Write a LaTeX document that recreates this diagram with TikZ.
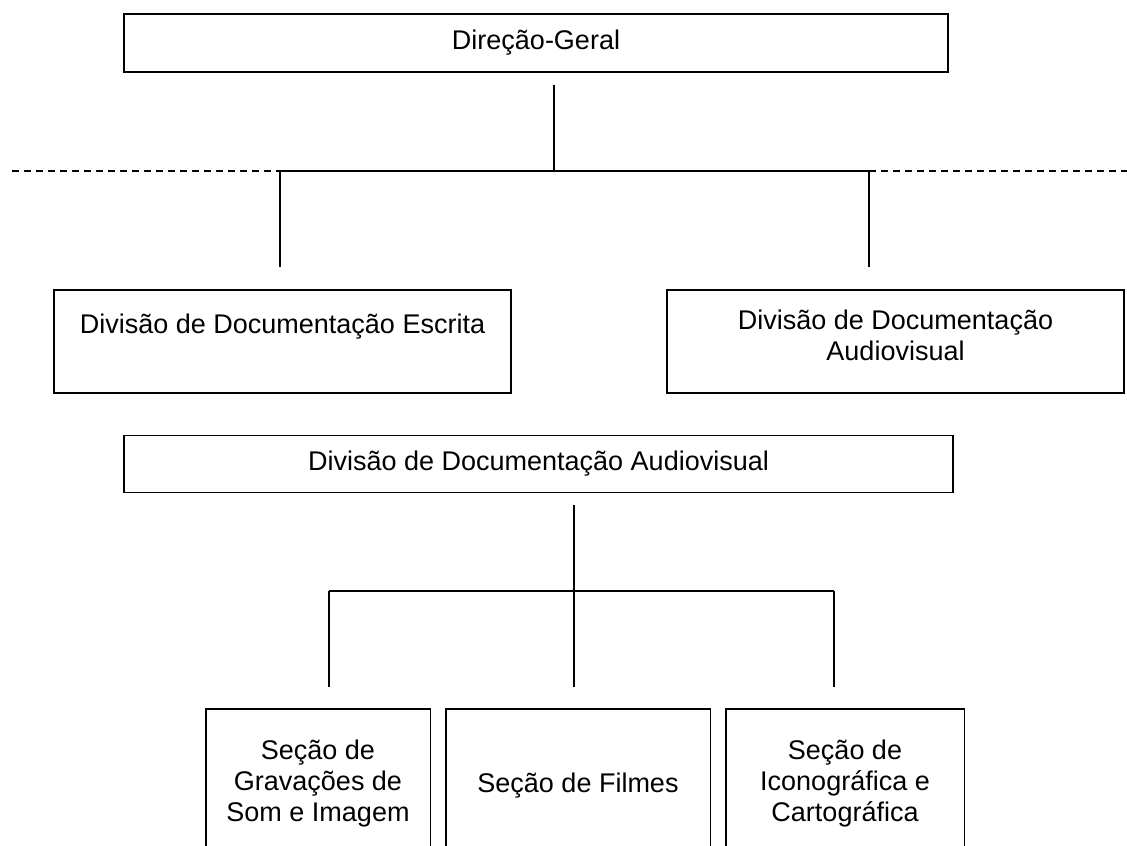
\documentclass[tikz,border=0pt]{standalone}
\usepackage{fontspec}
\setmainfont{Liberation Sans}
\begin{document}
\begin{tikzpicture}[x=0.5pt,y=-0.5pt,
  box/.style={draw, line width=0.9pt, inner sep=0pt},
  shell/.style={inner sep=0pt},
  conn/.style={line width=0.7pt},
  lbl/.style={font=\fontsize{13.5}{15.5}\selectfont, align=center, inner sep=0pt},
  dashline/.style={line width=0.7pt, dash pattern=on 3.5pt off 2.5pt}]
\useasboundingbox (0,0) rectangle (1127,845);
% boxes
\node[box, lbl, minimum width=412pt, minimum height=29pt] (dg) at (536,43) {Direção-Geral};
\node[box, minimum width=228.5pt, minimum height=51.5pt] (de) at (282.5,341.5) {};
\node[box, minimum width=228.5pt, minimum height=51.5pt] (da) at (895.5,341.5) {};
\node[lbl] (tde) at (282.5,327) {Divisão de Documentação Escrita};
\node[lbl] (tda) at (895.5,335) {Divisão de Documentação\\Audiovisual};
\node[box, lbl, minimum width=414.5pt, minimum height=28.5pt] (dav) at (538.5,464) {Divisão de Documentação Audiovisual};
% open-bottom boxes
\node[shell, minimum width=112pt, minimum height=70.5pt] (s1) at (318,779.5) {};
\node[shell, minimum width=132pt, minimum height=70.5pt] (s2) at (578,779.5) {};
\node[shell, minimum width=119pt, minimum height=70.5pt] (s3) at (845,779.5) {};
\foreach \b in {s1,s2,s3}
  \draw[line width=0.9pt] (\b.south west) -- (\b.north west) -- (\b.north east) -- (\b.south east);
\node[lbl] (t1) at (318,784) {Seção de\\Gravações de\\Som e Imagem};
\node[lbl] (t2) at (578,786) {Seção de Filmes};
\node[lbl] (t3) at (845,784) {Seção de\\Iconográfica e\\Cartográfica};
% upper connectors
\coordinate (c0) at (554,85);
\coordinate (j0) at (554,171);
\coordinate (jl) at (280,171);
\coordinate (jr) at (869,171);
\coordinate (el) at (280,267);
\coordinate (er) at (869,267);
\coordinate (dl) at (12,171);
\coordinate (dr) at (1127,171);
\draw[conn] (c0) -- (j0);
\draw[conn] (jl) -- (jr);
\draw[conn] (jl) -- (el);
\draw[conn] (jr) -- (er);
\draw[dashline] (dl) -- (jl);
\draw[dashline] (jr) -- (dr);
% lower connectors
\coordinate (m0) at (574,505);
\coordinate (mj) at (574,591);
\coordinate (ml) at (329,591);
\coordinate (mr) at (834,591);
\coordinate (me) at (574,687);
\coordinate (mle) at (329,687);
\coordinate (mre) at (834,687);
\draw[conn] (m0) -- (me);
\draw[conn] (ml) -- (mr);
\draw[conn] (ml) -- (mle);
\draw[conn] (mr) -- (mre);
\end{tikzpicture}
\end{document}
